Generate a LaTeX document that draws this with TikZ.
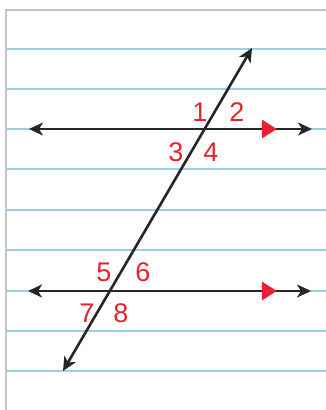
\documentclass[tikz,border=0pt]{standalone}
\usepackage{fontspec}
\setsansfont{Liberation Sans}
\usepackage{tikz}
\usetikzlibrary{arrows.meta}
\usetikzlibrary{shapes.geometric}

\definecolor{ruleblue}{HTML}{9CCFDF}
\definecolor{papergray}{HTML}{C4C4C4}
\definecolor{anglered}{HTML}{E8202F}

\begin{document}
\begin{tikzpicture}[x=1pt,y=-1pt]
% Style definitions
\tikzset{
    rule/.style={ruleblue, line width=1.2pt},
    edge/.style={papergray, line width=2pt},
    line/.style={{Stealth[length=14pt,width=13pt,inset=4pt]}-{Stealth[length=14pt,width=13pt,inset=4pt]},
                 line width=2.6pt, black!85},
    marker/.style={isosceles triangle, isosceles triangle apex angle=65, fill=anglered,
                   inner sep=0pt, minimum height=15pt, minimum width=15pt},
    num/.style={anglered, font=\sffamily\fontsize{27}{27}\selectfont, inner sep=0pt}
}
\useasboundingbox (0,0) rectangle (326,410);

% Ruled paper
\foreach \y in {49,89,129,169,210,250,291,331,371}
    \draw[rule] (6,\y) -- (326,\y);
\draw[edge] (6,410) -- (6,10) -- (326,10);

% End points of the lines
\coordinate (a1) at (29,129);
\coordinate (a2) at (312,129);
\coordinate (b1) at (28,291);
\coordinate (b2) at (311,291);
\coordinate (t1) at (63,371);
\coordinate (t2) at (252,48);

% Lines
\draw[line] (a1) -- (a2);
\draw[line] (b1) -- (b2);
\draw[line] (t1) -- (t2);

% Parallel markers
\node[marker] (pa) at (267,129) {};
\node[marker] (pb) at (267,291) {};

% Angle numbers
\node[num] (n1) at (200,112) {1};
\node[num] (n2) at (237,112) {2};
\node[num] (n3) at (176,152) {3};
\node[num] (n4) at (211,152) {4};
\node[num] (n5) at (104,272) {5};
\node[num] (n6) at (143,272) {6};
\node[num] (n7) at (87,313) {7};
\node[num] (n8) at (121,313) {8};

\end{tikzpicture}
\end{document}
